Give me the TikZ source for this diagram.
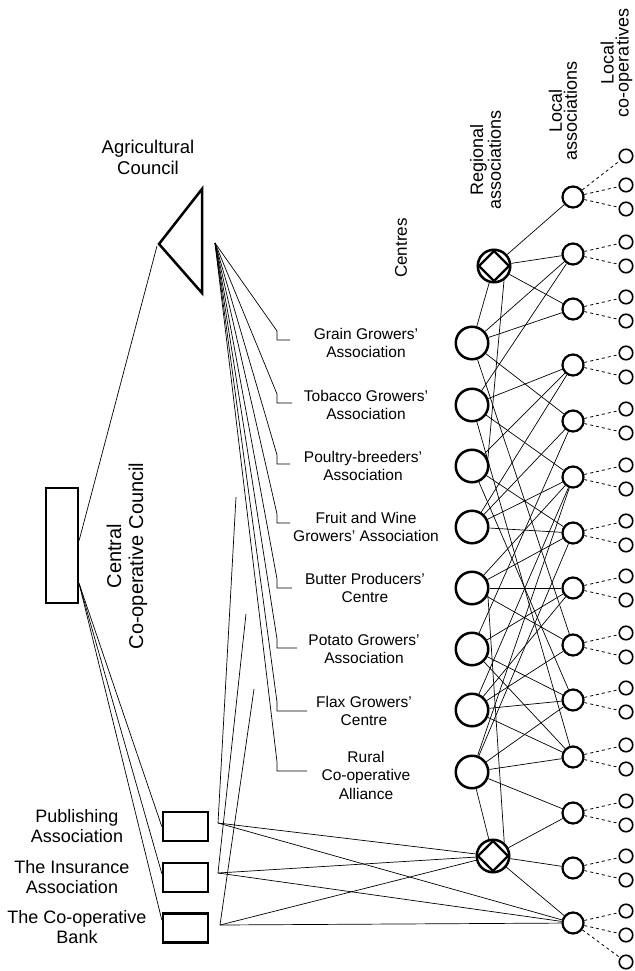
\documentclass[tikz,border=0pt]{standalone}
\usepackage{fontspec}
\setmainfont{Liberation Sans}
\usetikzlibrary{calc}
\pgfdeclarelayer{bg}
\pgfsetlayers{bg,main}
\begin{document}
\begin{tikzpicture}[x=1pt,y=-1pt,
  reg/.style={circle,draw,line width=2.5pt,minimum size=32.5pt,inner sep=0pt,fill=white},
  loc/.style={circle,draw,line width=2.2pt,minimum size=21pt,inner sep=0pt,fill=white},
  coop/.style={circle,draw,line width=1.6pt,minimum size=13.5pt,inner sep=0pt,fill=white},
  box/.style={draw,line width=2.4pt,minimum width=45pt,minimum height=29pt,inner sep=0pt},
  clabel/.style={align=center,font=\fontsize{15.5}{18.5}\selectfont,inner sep=0pt},
  hdr/.style={rotate=90,align=center,font=\fontsize{18}{15}\selectfont,inner sep=0pt},
  blabel/.style={align=center,font=\fontsize{18}{20}\selectfont,inner sep=0pt},
  conn/.style={line width=0.7pt},
  dsh/.style={line width=0.8pt,dash pattern=on 3pt off 3pt},
  diamondmark/.style={line width=2.2pt,line join=miter}
]
\useasboundingbox (0,0) rectangle (634,971);

% ---------- headers ----------
\node[align=center,font=\fontsize{18.5}{21}\selectfont,inner sep=0pt] (ACt) at (148,157) {Agricultural\\Council};
\node[rotate=90,align=center,font=\fontsize{20}{22}\selectfont,inner sep=0pt] (CCt) at (127,556) {Central\\Co-operative Council};
\node[rotate=90,font=\fontsize{17}{18}\selectfont,inner sep=0pt] (hC) at (401,248) {Centres};
\node[hdr,font=\fontsize{18}{16}\selectfont] (hR) at (485.5,160) {Regional\\associations};
\node[hdr] (hL) at (563,111) {Local\\associations};
\node[hdr] (hLC) at (616.5,63) {Local\\co-operatives};

% ---------- left structure ----------
\coordinate (tA) at (202,189);
\coordinate (tB) at (159,244);
\coordinate (tC) at (202,293);
\draw[line width=2.5pt,line join=miter] (tA) -- (tB) -- (tC) -- cycle;
\coordinate (apex) at (157,246);
\coordinate (fan) at (215,243);

\node[draw,line width=2.2pt,minimum width=32pt,minimum height=115pt,inner sep=0pt] (CCC) at (62,545.5) {};

\node[box] (PA) at (185.5,826.5) {};
\node[box] (IA) at (185.5,877.5) {};
\node[box] (CB) at (185.5,928) {};
\node[blabel] (PAl) at (77,826) {Publishing\\Association};
\node[blabel] (IAl) at (72,877) {The Insurance\\Association};
\node[blabel] (CBl) at (77,927) {The Co-operative\\Bank};

% ---------- centres labels ----------
\node[clabel] (c1) at (366,343) {Grain Growers’\\Association};
\node[clabel] (c2) at (366,405) {Tobacco Growers’\\Association};
\node[clabel] (c3) at (363,466) {Poultry-breeders’\\Association};
\node[clabel] (c4) at (366,527) {Fruit and Wine\\Growers’ Association};
\node[clabel] (c5) at (365,588) {Butter Producers’\\Centre};
\node[clabel] (c6) at (364,649) {Potato Growers’\\Association};
\node[clabel] (c7) at (364,711) {Flax Growers’\\Centre};
\node[clabel] (c8) at (366,775) {Rural\\Co-operative\\Alliance};

% ---------- regional associations ----------
\node[reg] (D1) at (494,266) {};
\draw[diamondmark] ([yshift=15pt]D1.center) -- ([xshift=15pt]D1.center) -- ([yshift=-15pt]D1.center) -- ([xshift=-15pt]D1.center) -- cycle;
\foreach \i/\y in {1/343,2/405,3/466,4/527,5/588,6/649,7/710,8/772}
  \node[reg] (R\i) at (472,\y) {};
\node[reg] (D2) at (493,856) {};
\draw[diamondmark] ([yshift=15pt]D2.center) -- ([xshift=15pt]D2.center) -- ([yshift=-15pt]D2.center) -- ([xshift=-15pt]D2.center) -- cycle;

% ---------- local associations & co-operatives ----------
\foreach \i/\y in {1/197,2/254,3/309,4/365,5/421,6/477,7/533,8/588,9/645,10/700,11/757,12/813,13/868,14/923}{
  \node[loc] (L\i) at (573,\y) {};
  \node[coop] (Ca\i) at (626,{\y-12}) {};
  \node[coop] (Cb\i) at (626,{\y+12}) {};
}
\node[coop] (Cc1) at (626,156) {};
\node[coop] (Cc14) at (626,962) {};

% ---------- connectors ----------
\coordinate (T1) at (236,497);
\coordinate (T2) at (246,614);
\coordinate (T3) at (254,689);
\coordinate (J1) at (218,823);
\coordinate (J2) at (218,873);
\coordinate (J3) at (220,925);

\begin{pgfonlayer}{bg}
\draw[conn] ([yshift=5pt]CCC.east) -- (apex);
\draw[conn] ([yshift=-38pt]CCC.east) -- (PA.west);
\draw[conn] ([yshift=-38pt]CCC.east) -- ([yshift=4pt]IA.west);
\draw[conn] ([yshift=-38pt]CCC.east) -- ([yshift=8pt]CB.west);

\foreach \ty/\tx in {340/290,403/292,464/290,523/290,588/292,648/297,711/307,771/307}
  \draw[conn] (fan) -- (277,{\ty-9}) -- (277,\ty) -- (\tx,\ty);

\draw[conn] (T1) -- (J1);
\draw[conn] (T2) -- (J2);
\draw[conn] (T3) -- (J3);
\foreach \j in {J1,J2,J3}{
  \draw[conn] (\j) -- (D2);
  \draw[conn] (\j) -- (L14);
}

\draw[conn] (D1.-55) -- (R3.25);
\draw[conn] (D2.50) -- (R5.-25);

\foreach \a/\b in {D1/L1,D1/L2,D1/L3,D1/R1,
  R1/L2,R1/L3,R1/L5,R1/L9,
  R2/L2,R2/L4,R2/L6,R2/L11,
  R3/L4,R3/L7,R3/L10,
  R4/L4,R4/L5,R4/L6,R4/L7,
  R5/L6,R5/L7,R5/L8,R5/L9,
  R6/L5,R6/L8,R6/L10,R6/L11,
  R7/L6,R7/L8,R7/L9,R7/L10,R7/L11,
  R8/L6,R8/L7,R8/L10,R8/L11,R8/L12,R8/D2,
  D2/L12,D2/L13,D2/L14}
  \draw[conn] (\a) -- (\b);

\foreach \i in {1,...,14}{
  \draw[dsh] (L\i) -- (Ca\i);
  \draw[dsh] (L\i) -- (Cb\i);
}
\draw[dsh] (L1) -- (Cc1);
\draw[dsh] (L14) -- (Cc14);
\end{pgfonlayer}
\end{tikzpicture}
\end{document}
